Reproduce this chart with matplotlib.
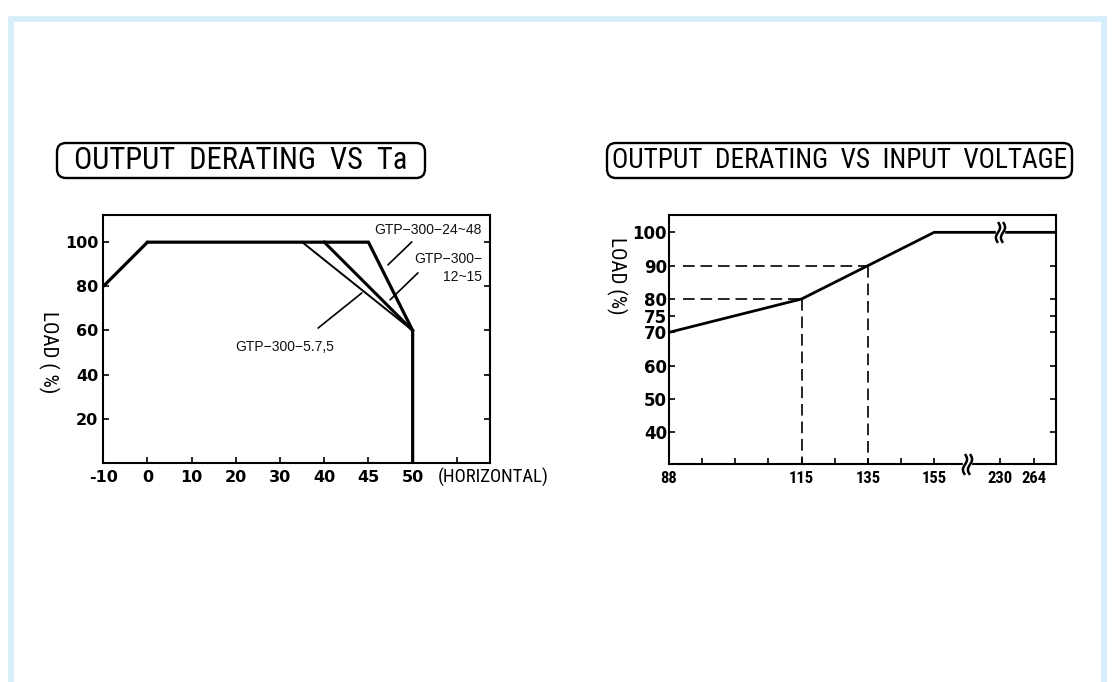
import matplotlib.pyplot as plt
import numpy as np
from matplotlib.patches import FancyBboxPatch, PathPatch
from matplotlib.path import Path
from matplotlib.transforms import Affine2D

# left chart: output derating vs ambient temperature
temp_ticks = [-10, 0, 10, 20, 30, 40, 45, 50, 55]
temp_labels = ["-10", "0", "10", "20", "30", "40", "45", "50", ""]
load_ticks_l = [20, 40, 60, 80, 100]

temp_common = [-10, 0]
load_common = [80, 100]
temp_24_48 = [0, 45, 50, 50]
load_24_48 = [100, 100, 60, 0]
temp_12_15 = [40, 50]
load_12_15 = [100, 60]
temp_5_75 = [35, 50]
load_5_75 = [100, 60]

# right chart: output derating vs input voltage
vin = [88, 115, 135, 155, 300]
load_vin = [70, 80, 90, 100, 100]
vin_ticks = [88, 115, 135, 155, 230, 264]
load_ticks_r = [40, 50, 60, 70, 75, 80, 90, 100]
vin_marks = [115, 135]
load_marks = [80, 90]

W, H = 1112, 682
COND = ["DejaVu Sans Condensed", "Liberation Sans Narrow", "Roboto Condensed", "DejaVu Sans"]

fig = plt.figure(figsize=(W / 100, H / 100), dpi=100)
px = Affine2D().scale(1 / W, 1 / H) + fig.transFigure


def rect(left, top, right, bottom):
    return [left / W, 1 - bottom / H, (right - left) / W, (bottom - top) / H]


# light blue page frame
frame = Path([(10.5, -10), (10.5, H - 19), (1104, H - 19), (1104, -10)])
fig.patches.append(PathPatch(frame, transform=px, fill=False, ec="#d5eefa", lw=4.2))


def title_box(left, right, top, bottom, text):
    box = FancyBboxPatch((left, H - bottom), right - left, bottom - top,
                         boxstyle="round,pad=0,rounding_size=9", transform=px,
                         fc="white", ec="black", lw=1.7)
    fig.patches.append(box)
    t = fig.text((left + right) / 2 / W, 1 - (top + bottom) / 2 / H, text,
                 ha="center", va="center", fontsize=22, family=COND,
                 stretch="condensed")
    r = fig.canvas.get_renderer()
    target = right - left - 10
    w = t.get_window_extent(r).width
    if w > target:
        t.set_fontsize(22 * target / w)


title_box(57, 425, 143, 178, "OUTPUT  DERATING  VS  Ta")
title_box(607, 1072, 143, 178, "OUTPUT  DERATING  VS  INPUT  VOLTAGE")

# ---- left chart ----
t_knots = [-10, 0, 10, 20, 30, 40, 45, 50, 55, 60]
t_pos = np.arange(len(t_knots), dtype=float)


def t_fwd(x):
    return np.interp(x, t_knots, t_pos)


def t_inv(p):
    return np.interp(p, t_pos, t_knots)


ax1 = fig.add_axes(rect(103.3, 215, 490, 463))
ax1.set_xscale("function", functions=(t_fwd, t_inv))
ax1.set_xlim(-10, 58.75)
ax1.set_ylim(0, 112.3)

ax1.plot(temp_common, load_common, color="black", lw=2.3, solid_capstyle="butt")
ax1.plot(temp_24_48, load_24_48, color="black", lw=2.3, solid_joinstyle="miter")
ax1.plot(temp_12_15, load_12_15, color="black", lw=2.2)
ax1.plot(temp_5_75, load_5_75, color="black", lw=1.4)

ax1.set_xticks(temp_ticks, temp_labels)
ax1.set_yticks(load_ticks_l)
ax1.tick_params(direction="in", length=4, width=1.2, labelsize=11.5, top=False, right=True)
ax1.tick_params(axis="x", pad=5)
for lab in ax1.get_xticklabels() + ax1.get_yticklabels():
    lab.set_fontweight("bold")
for s in ax1.spines.values():
    s.set_linewidth(1.5)

lbl = dict(fontsize=10, family=["Liberation Sans", "DejaVu Sans"], color="#111111")
ax1.text(57.85, 105.5, "GTP\u2212300\u221224~48", ha="right", va="center", **lbl)
ax1.text(57.85, 88.3, "GTP\u2212300\u2212\n12~15", ha="right", va="center",
         multialignment="right", linespacing=1.35, **lbl)
ax1.text(31, 52.5, "GTP\u2212300\u22125.7,5", ha="center", va="center", **lbl)
lead = dict(arrowprops=dict(arrowstyle="-", lw=1.2, color="black", shrinkA=0, shrinkB=0))
ax1.annotate("", xy=(47.2, 89.7), xytext=(49.9, 100.1), **lead)
ax1.annotate("", xy=(47.45, 73.9), xytext=(50.6, 86.1), **lead)
ax1.annotate("", xy=(38.6, 61.1), xytext=(44.25, 77.0), **lead)

fig.text(438 / W, 1 - 477 / H, "(HORIZONTAL)", ha="left", va="center",
         fontsize=13.5, family=COND, stretch="condensed")
fig.text(49 / W, 1 - 352 / H, "LOAD ( %)", rotation=270, ha="center", va="center",
         fontsize=15, family=COND, stretch="condensed")

# ---- right chart ----
v_knots = [88, 115, 135, 155, 192.5, 230, 264, 298]
v_pos = np.array([0, 4, 6, 8, 9, 10, 11, 12], dtype=float)


def v_fwd(x):
    return np.interp(x, v_knots, v_pos)


def v_inv(p):
    return np.interp(p, v_pos, v_knots)


ax2 = fig.add_axes(rect(669, 215, 1056, 464))
ax2.set_xscale("function", functions=(v_fwd, v_inv))
ax2.set_xlim(88, 287)
ax2.set_ylim(30.5, 105.2)

ax2.plot(vin, load_vin, color="black", lw=2.0)
dash = dict(color="black", lw=1.2, dashes=(7, 3.5))
for v, l in zip(vin_marks, load_marks):
    ax2.plot([90.9, v], [l, l], **dash)
    ax2.plot([v, v], [l, 30.5], **dash)

ax2.set_xticks(vin_ticks, [str(v) for v in vin_ticks])
ax2.set_xticks(v_inv([1, 2, 3, 5, 7]), minor=True)
ax2.set_yticks(load_ticks_r)
ax2.tick_params(which="both", direction="in", length=4, width=1.2, top=False, right=True)
ax2.tick_params(axis="y", labelsize=12, pad=1.5)
ax2.tick_params(axis="x", labelsize=12, pad=5)
for lab in ax2.get_xticklabels():
    lab.set_fontweight("bold")
    lab.set_family(COND)
    lab.set_stretch("condensed")
for lab in ax2.get_yticklabels():
    lab.set_fontweight("bold")
for s in ax2.spines.values():
    s.set_linewidth(1.5)

# axis break marks
t = np.linspace(-1, 1, 21)
verts, codes = [], []
for dx in (-0.24, 0.24):
    pts = np.column_stack([dx + 0.2 * np.sin(np.pi * t), t])
    verts += pts.tolist()
    codes += [Path.MOVETO] + [Path.LINETO] * (len(t) - 1)
brk = Path(verts, codes)
bg = Path([(-0.42, -1), (0.42, -1), (0.42, 1), (-0.42, 1), (-0.42, -1)], closed=True)
for bx, by in [(230, 100), (192.5, 30.5)]:
    ax2.plot([bx], [by], marker=bg, ms=15, mfc="white", mec="white", clip_on=False, zorder=5)
    ax2.plot([bx], [by], marker=brk, ms=15, mfc="none", mec="black", mew=1.8,
             clip_on=False, zorder=6)

fig.text(616.5 / W, 1 - 275.5 / H, "LOAD (%)", rotation=270, ha="center", va="center",
         fontsize=15, family=COND, stretch="condensed")

fig.savefig("out.png", dpi=100)
